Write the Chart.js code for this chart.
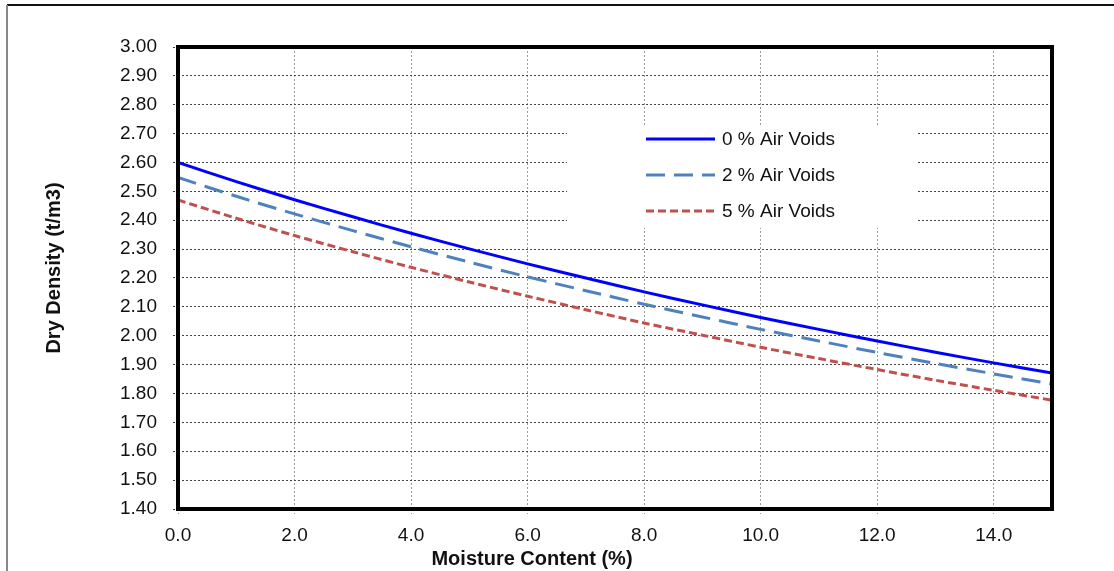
<!DOCTYPE html>
<html>
<head>
<meta charset="utf-8">
<script src="https://cdn.jsdelivr.net/npm/chart.js@4/dist/chart.umd.min.js"></script>
<style>
  body { margin: 0; background: #fff; }
  canvas { display: block; }
</style>
</head>
<body>
<canvas id="densityChart" width="1114" height="571"></canvas>
<script>
// Teneur en eau (%)
var moisture = [0, 1, 2, 3, 4, 5, 6, 7, 8, 9, 10, 11, 12, 13, 14, 15];

// Densité sèche (t/m3)
var voids0 = [2.600, 2.534, 2.471, 2.412, 2.355, 2.301, 2.249, 2.200, 2.152, 2.107, 2.063, 2.022, 1.982, 1.943, 1.906, 1.871];
var voids2 = [2.548, 2.483, 2.422, 2.364, 2.308, 2.255, 2.204, 2.156, 2.109, 2.065, 2.022, 1.982, 1.942, 1.904, 1.868, 1.833];
var voids5 = [2.470, 2.407, 2.347, 2.291, 2.237, 2.186, 2.137, 2.090, 2.044, 2.002, 1.960, 1.921, 1.883, 1.846, 1.811, 1.777];

var seriesNames = ['0 % Air Voids', '2 % Air Voids', '5 % Air Voids'];

// Graduations des axes
var xTicks = [0, 2, 4, 6, 8, 10, 12, 14];
var yTicks = [1.4, 1.5, 1.6, 1.7, 1.8, 1.9, 2.0, 2.1, 2.2, 2.3, 2.4, 2.5, 2.6, 2.7, 2.8, 2.9, 3.0];

var xTitle = 'Moisture Content (%)';
var yTitle = 'Dry Density (t/m3)';

function toPoints(values) {
    return moisture.map(function (m, i) { return { x: m, y: values[i] }; });
}

var styles = [
    { color: '#0000FF', dash: [] },
    { color: '#4F81BD', dash: [19, 9] },
    { color: '#C0504D', dash: [8, 4] }
];

// Cadre extérieur, bordure épaisse, légende et titres d'axes
var decorPlugin = {
    id: 'decor',
    beforeDraw: function (chart) {
        var ctx = chart.ctx;
        ctx.save();
        ctx.fillStyle = '#fff';
        ctx.fillRect(0, 0, chart.width, chart.height);
        ctx.lineWidth = 2;
        ctx.strokeStyle = '#111';
        ctx.beginPath();
        ctx.moveTo(7, 5);
        ctx.lineTo(chart.width, 5);
        ctx.stroke();
        ctx.strokeStyle = '#888';
        ctx.beginPath();
        ctx.moveTo(7, 5);
        ctx.lineTo(7, chart.height);
        ctx.stroke();
        ctx.restore();
    },
    afterDraw: function (chart) {
        var ctx = chart.ctx;
        var a = chart.chartArea;
        ctx.save();

        // bordure de la zone de tracé
        ctx.strokeStyle = '#000';
        ctx.lineWidth = 4;
        ctx.strokeRect(a.left, a.top, a.right - a.left, a.bottom - a.top);

        // légende
        ctx.fillStyle = '#fff';
        ctx.fillRect(567, 125, 349, 103);
        ctx.font = '19px "Liberation Sans", Arial, sans-serif';
        ctx.textBaseline = 'middle';
        ctx.textAlign = 'left';
        var rowsY = [139, 175, 211];
        for (var i = 0; i < seriesNames.length; i++) {
            ctx.strokeStyle = styles[i].color;
            ctx.lineWidth = 3;
            ctx.setLineDash(styles[i].dash);
            ctx.beginPath();
            ctx.moveTo(646, rowsY[i]);
            ctx.lineTo(715, rowsY[i]);
            ctx.stroke();
            ctx.setLineDash([]);
            ctx.fillStyle = '#111';
            ctx.fillText(seriesNames[i], 722, rowsY[i] + 1);
        }

        // titres des axes
        ctx.font = 'bold 20px "Liberation Sans", Arial, sans-serif';
        ctx.textAlign = 'center';
        ctx.textBaseline = 'alphabetic';
        ctx.fillText(xTitle, 532, 565);
        ctx.translate(60, 268);
        ctx.rotate(-Math.PI / 2);
        ctx.fillText(yTitle, 0, 0);
        ctx.restore();
    }
};

var chart = new Chart(document.getElementById('densityChart'), {
    type: 'line',
    data: {
        datasets: [voids0, voids2, voids5].map(function (vals, i) {
            return {
                label: seriesNames[i],
                data: toPoints(vals),
                borderColor: styles[i].color,
                borderDash: styles[i].dash,
                borderWidth: 3,
                pointRadius: 0,
                tension: 0.3,
                fill: false
            };
        })
    },
    options: {
        responsive: false,
        animation: false,
        layout: { padding: { left: 0, top: 47, right: 62, bottom: 0 } },
        plugins: {
            legend: { display: false },
            tooltip: { enabled: false }
        },
        scales: {
            x: {
                type: 'linear',
                min: 0,
                max: 15,
                afterBuildTicks: function (axis) {
                    axis.ticks = xTicks.map(function (v) { return { value: v }; });
                },
                afterFit: function (axis) { axis.height = 62; },
                ticks: {
                    padding: 10,
                    color: '#111',
                    font: { family: '"Liberation Sans", Arial, sans-serif', size: 19 },
                    callback: function (v) { return Number(v).toFixed(1); }
                },
                grid: {
                    color: '#9a9a9a',
                    lineWidth: 1,
                    tickLength: 5,
                    tickBorderDash: [2, 2],
                    tickColor: '#9a9a9a'
                },
                border: { display: false, dash: [2, 2] }
            },
            y: {
                min: 1.4,
                max: 3.0,
                afterBuildTicks: function (axis) {
                    axis.ticks = yTicks.map(function (v) { return { value: v }; });
                },
                afterFit: function (axis) { axis.width = 178; },
                ticks: {
                    padding: 16,
                    color: '#111',
                    font: { family: '"Liberation Sans", Arial, sans-serif', size: 19 },
                    callback: function (v) { return Number(v).toFixed(2); }
                },
                grid: {
                    color: '#444',
                    lineWidth: 1,
                    tickLength: 5,
                    tickBorderDash: [2, 2],
                    tickColor: '#444'
                },
                border: { display: false, dash: [2, 2] }
            }
        }
    },
    plugins: [decorPlugin]
});
</script>
</body>
</html>
